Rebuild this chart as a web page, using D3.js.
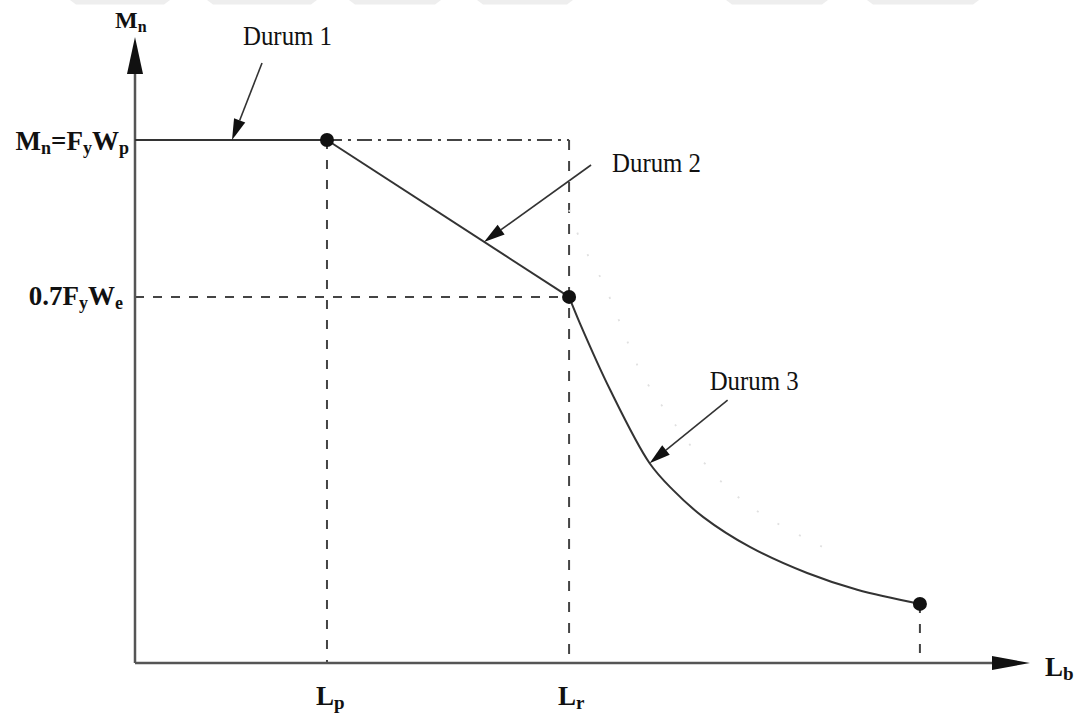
<!DOCTYPE html>
<html>
<head>
<meta charset="utf-8">
<script src="https://cdn.jsdelivr.net/npm/d3@7"></script>
<style>
  html, body { margin: 0; padding: 0; background: #fff; }
  svg { display: block; }
  text { font-family: "Liberation Serif", "Times New Roman", serif; fill: #111; }
</style>
</head>
<body>
<svg id="chart" width="1084" height="715"></svg>
<script>
// Nominal flexural strength Mn versus unbraced length Lb (normalised: Mn / FyWp)
const limitLengths = [2.145, 4.85];          // Lp, Lr
const limitNames = [["L", "p"], ["L", "r"]];
const plateauLevel = 1.0;                    // Mn = Fy Wp
const yieldLevel = 0.7;                      // 0.7 Fy We
const plateauSeries = [[0, 1.0], [2.145, 1.0]];
const inelasticSeries = [[2.145, 1.0], [4.85, 0.70]];
const elasticSeries = [
  [4.85, 0.700], [4.97, 0.650], [5.31, 0.522], [5.75, 0.382], [6.01, 0.331],
  [6.35, 0.279], [6.87, 0.222], [7.51, 0.172], [8.07, 0.140], [8.77, 0.113]
];
// elastic buckling curve continued above Lr (faint)
const elasticExtension = [
  [4.85, 0.866], [4.99, 0.803], [5.23, 0.727], [5.55, 0.595], [5.68, 0.547],
  [6.46, 0.363], [6.93, 0.293], [7.68, 0.222], [7.88, 0.206]
];
const keyPoints = [[2.145, 1.0], [4.85, 0.70], [8.77, 0.113]];
const caseLabels = ["Durum 1", "Durum 2", "Durum 3"];
const caseTargets = [[1.084, 1.0], [3.90, 0.805], [5.75, 0.382]];

const svg = d3.select("#chart");
const x = d3.scaleLinear().domain([0, 10]).range([135, 1030]);
const y = d3.scaleLinear().domain([0, 1]).range([663, 140]);

// faint band along the top edge
const bandStarts = [70, 207, 349, 477, 726, 867];
const bandWidths = [100, 110, 92, 96, 102, 112];
svg.append("g").selectAll("path").data(bandStarts).join("path")
  .attr("d", (s, i) => `M${s},0 L${s + bandWidths[i]},0 L${s + bandWidths[i] - 6},4.5 L${s + 6},4.5 Z`)
  .attr("fill", "#eeeeee");

const line = d3.line().x(d => x(d[0])).y(d => y(d[1]));
const curve = d3.line().x(d => x(d[0])).y(d => y(d[1])).curve(d3.curveCatmullRom.alpha(0.5));

// guide lines
const guides = svg.append("g").attr("fill", "none").attr("stroke", "#444").attr("stroke-width", 2);
guides.append("path")
  .attr("d", line([[limitLengths[0], plateauLevel], [limitLengths[1], plateauLevel]]))
  .attr("stroke-dasharray", "15,6,3,6");
guides.append("path")
  .attr("d", line([[limitLengths[1], plateauLevel], [limitLengths[1], 0]]))
  .attr("stroke-dasharray", "10,11");
guides.append("path")
  .attr("d", line([[limitLengths[0], plateauLevel], [limitLengths[0], 0]]))
  .attr("stroke-dasharray", "9,11");
guides.append("path")
  .attr("d", line([[0, yieldLevel], [limitLengths[1], yieldLevel]]))
  .attr("stroke-dasharray", "9,9");
guides.append("path")
  .attr("d", line([keyPoints[2], [keyPoints[2][0], 0]]))
  .attr("stroke-dasharray", "9,11");

svg.append("path")
  .attr("d", curve(elasticExtension))
  .attr("fill", "none").attr("stroke", "#e0e0e0").attr("stroke-width", 1.8)
  .attr("stroke-dasharray", "2,22");

// axes
const axisG = svg.append("g");
axisG.append("line").attr("x1", x(0)).attr("y1", y(0)).attr("x2", x(0)).attr("y2", 70)
  .attr("stroke", "#555").attr("stroke-width", 2.5);
axisG.append("line").attr("x1", x(0)).attr("y1", y(0)).attr("x2", 995).attr("y2", y(0))
  .attr("stroke", "#555").attr("stroke-width", 2.5);
axisG.append("path").attr("d", `M${x(0)},37 L${x(0) - 8},74 L${x(0) + 8},74 Z`).attr("fill", "#111");
axisG.append("path").attr("d", `M1030,${y(0)} L992,${y(0) - 7} L992,${y(0) + 7} Z`).attr("fill", "#111");

// strength curve
const curveG = svg.append("g").attr("fill", "none").attr("stroke", "#333").attr("stroke-width", 2);
curveG.append("path").attr("d", line(plateauSeries));
curveG.append("path").attr("d", line(inelasticSeries));
curveG.append("path").attr("d", curve(elasticSeries));

svg.append("g").selectAll("circle").data(keyPoints).join("circle")
  .attr("cx", d => x(d[0])).attr("cy", d => y(d[1])).attr("r", 7).attr("fill", "#111");

// case annotations with arrows
const tailOffsets = [[30, -77], [107, -77], [78, -63]];
const textOffsets = [[11, -95], [128, -70], [60, -73]];
const ann = svg.append("g");
caseTargets.forEach((t, i) => {
  const tx = x(t[0]), ty = y(t[1]);
  const sx = tx + tailOffsets[i][0], sy = ty + tailOffsets[i][1];
  const ang = Math.atan2(ty - sy, tx - sx);
  const len = 21, hw = 6;
  const bx = tx - len * Math.cos(ang), by = ty - len * Math.sin(ang);
  const px = -Math.sin(ang) * hw, py = Math.cos(ang) * hw;
  ann.append("line").attr("x1", sx).attr("y1", sy).attr("x2", bx).attr("y2", by)
    .attr("stroke", "#333").attr("stroke-width", 1.6);
  ann.append("path")
    .attr("d", `M${tx},${ty} L${bx + px},${by + py} L${bx - px},${by - py} Z`)
    .attr("fill", "#111");
  ann.append("text").attr("x", tx + textOffsets[i][0]).attr("y", ty + textOffsets[i][1])
    .attr("font-size", 27).attr("textLength", 89).attr("lengthAdjust", "spacingAndGlyphs")
    .text(caseLabels[i]);
});

// labels built from main + subscript parts
function richText(g, parts, size, subSize) {
  const t = g.append("text").attr("font-weight", "bold").attr("font-size", size);
  parts.forEach(p => {
    t.append("tspan").attr("font-size", p.sub ? subSize : size)
      .attr("dy", p.sub ? 4 : (p.back ? -4 : 0)).text(p.s);
  });
  return t;
}
const mpLabel = [{s: "M"}, {s: "n", sub: true}, {s: "=F", back: true}, {s: "y", sub: true}, {s: "W", back: true}, {s: "p", sub: true}];
const myLabel = [{s: "0.7F"}, {s: "y", sub: true}, {s: "W", back: true}, {s: "e", sub: true}];

richText(svg, mpLabel, 27, 18).attr("x", 129).attr("y", y(plateauLevel) + 10).attr("text-anchor", "end");
richText(svg, myLabel, 27, 18).attr("x", 123).attr("y", y(yieldLevel) + 8).attr("text-anchor", "end");
richText(svg, [{s: "M"}, {s: "n", sub: true}], 24, 16).attr("x", 115).attr("y", 28);
richText(svg, [{s: "L"}, {s: "b", sub: true}], 27, 19).attr("x", 1045).attr("y", 676);
limitLengths.forEach((v, i) => {
  richText(svg, [{s: limitNames[i][0]}, {s: limitNames[i][1], sub: true}], 27, 19)
    .attr("x", x(v) - 11).attr("y", 705);
});
</script>
</body>
</html>
